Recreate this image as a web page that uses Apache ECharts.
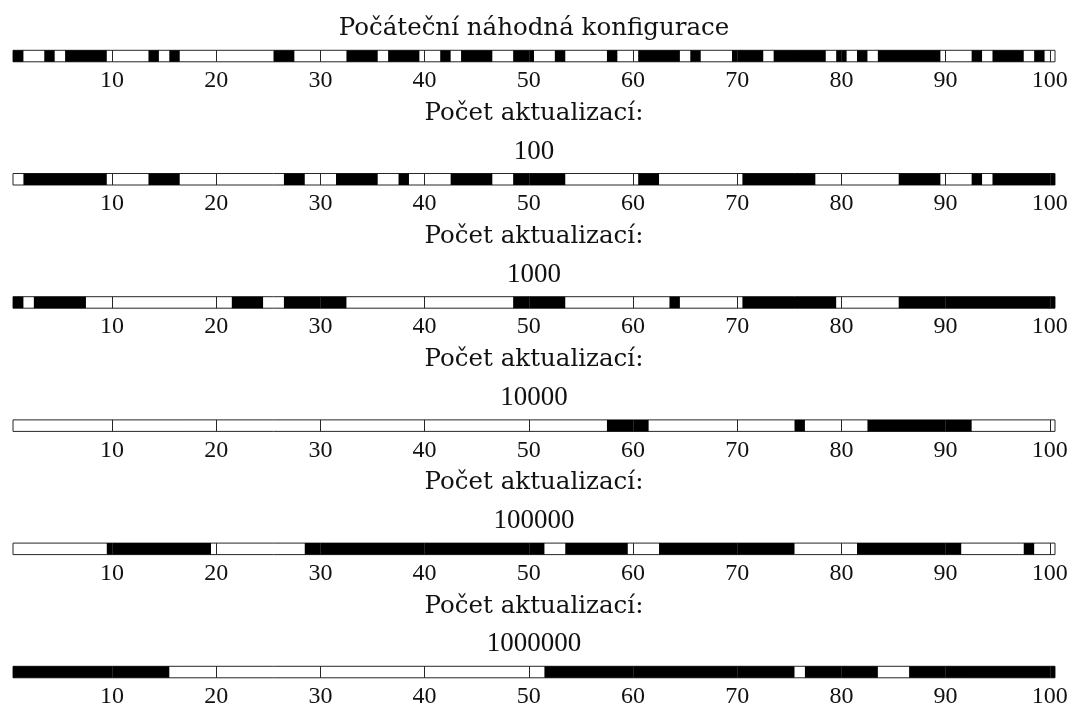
<!DOCTYPE html>
<html>
<head>
<meta charset="utf-8">
<script src="https://cdn.jsdelivr.net/npm/echarts@6/dist/echarts.min.js"></script>
<style>
  html, body { margin: 0; padding: 0; background: #fff; }
  #chart { width: 1073px; height: 709px; }
</style>
</head>
<body>
<div id="chart"></div>
<script>
// Spin states along a 1D chain of 100 sites (1 = black / down, 0 = white / up)
const initialState = [
  1,0,0,1,0,1,1,1,1,0, 0,0,0,1,0,1,0,0,0,0,
  0,0,0,0,0,1,1,0,0,0, 0,0,1,1,1,0,1,1,1,0,
  0,1,0,1,1,1,0,0,1,1, 0,0,1,0,0,0,0,1,0,0,
  1,1,1,1,0,1,0,0,0,1, 1,1,0,1,1,1,1,1,0,1,
  0,1,0,1,1,1,1,1,1,0, 0,0,1,0,1,1,1,0,1,0
];
const after100 = [
  0,1,1,1,1,1,1,1,1,0, 0,0,0,1,1,1,0,0,0,0,
  0,0,0,0,0,0,1,1,0,0, 0,1,1,1,1,0,0,1,0,0,
  0,0,1,1,1,1,0,0,1,1, 1,1,1,0,0,0,0,0,0,0,
  1,1,0,0,0,0,0,0,0,0, 1,1,1,1,1,1,1,0,0,0,
  0,0,0,0,0,1,1,1,1,0, 0,0,1,0,1,1,1,1,1,1
];
const after1000 = [
  1,0,1,1,1,1,1,0,0,0, 0,0,0,0,0,0,0,0,0,0,
  0,1,1,1,0,0,1,1,1,1, 1,1,0,0,0,0,0,0,0,0,
  0,0,0,0,0,0,0,0,1,1, 1,1,1,0,0,0,0,0,0,0,
  0,0,0,1,0,0,0,0,0,0, 1,1,1,1,1,1,1,1,1,0,
  0,0,0,0,0,1,1,1,1,1, 1,1,1,1,1,1,1,1,1,1
];
const after10000 = [
  0,0,0,0,0,0,0,0,0,0, 0,0,0,0,0,0,0,0,0,0,
  0,0,0,0,0,0,0,0,0,0, 0,0,0,0,0,0,0,0,0,0,
  0,0,0,0,0,0,0,0,0,0, 0,0,0,0,0,0,0,1,1,1,
  1,0,0,0,0,0,0,0,0,0, 0,0,0,0,0,1,0,0,0,0,
  0,0,1,1,1,1,1,1,1,1, 1,1,0,0,0,0,0,0,0,0
];
const after100000 = [
  0,0,0,0,0,0,0,0,0,1, 1,1,1,1,1,1,1,1,1,0,
  0,0,0,0,0,0,0,0,1,1, 1,1,1,1,1,1,1,1,1,1,
  1,1,1,1,1,1,1,1,1,1, 1,0,0,1,1,1,1,1,1,0,
  0,0,1,1,1,1,1,1,1,1, 1,1,1,1,1,0,0,0,0,0,
  0,1,1,1,1,1,1,1,1,1, 1,0,0,0,0,0,0,1,0,0
];
const after1000000 = [
  1,1,1,1,1,1,1,1,1,1, 1,1,1,1,1,0,0,0,0,0,
  0,0,0,0,0,0,0,0,0,0, 0,0,0,0,0,0,0,0,0,0,
  0,0,0,0,0,0,0,0,0,0, 0,1,1,1,1,1,1,1,1,1,
  1,1,1,1,1,1,1,1,1,1, 1,1,1,1,1,0,1,1,1,1,
  1,1,1,0,0,0,1,1,1,1, 1,1,1,1,1,1,1,1,1,1
];

const tickValues = [10, 20, 30, 40, 50, 60, 70, 80, 90, 100];
const firstTitle = 'Počáteční náhodná konfigurace';
const updateTitle = 'Počet aktualizací:';
const updateCounts = [100, 1000, 10000, 100000, 1000000];

const panels = [initialState, after100, after1000, after10000, after100000, after1000000];

// Collapse consecutive black sites into [first, last] runs so each block is one rectangle
function blackRuns(states) {
  const runs = [];
  let start = null;
  states.forEach((s, i) => {
    const site = i + 1;
    if (s === 1 && start === null) start = site;
    if (s !== 1 && start !== null) { runs.push([start, site - 1]); start = null; }
  });
  if (start !== null) runs.push([start, states.length]);
  return runs;
}

const NUM_FONT = '"Liberation Serif", serif';
const WORD_FONT = '"DejaVu Serif", serif';
const INK = '#262626';
const TEXT = '#111';
const LEFT = 13, WIDTH = 1042, TOP0 = 50.3, STEP = 123.2, STRIP_H = 11.5;
const CENTER_X = LEFT + WIDTH / 2;

const grids = [], xAxes = [], yAxes = [], series = [], texts = [];

function titleLine(str, y, font, size) {
  return {
    type: 'text', x: CENTER_X, y: y, silent: true,
    style: {
      text: str, fill: TEXT, align: 'center', verticalAlign: 'middle',
      font: size + 'px ' + font
    }
  };
}

panels.forEach((states, k) => {
  const top = TOP0 + k * STEP;
  grids.push({
    left: LEFT, width: WIDTH, top: top, height: STRIP_H,
    show: true, backgroundColor: '#fff', borderColor: INK, borderWidth: 1
  });
  xAxes.push({
    gridIndex: k, type: 'value', min: 0.5, max: 100.5, z: 10,
    axisLine: { show: false },
    splitLine: { show: false },
    axisTick: {
      show: true, inside: true, length: STRIP_H, customValues: tickValues,
      lineStyle: { color: INK, width: 1 }
    },
    axisLabel: {
      show: true, customValues: tickValues, margin: 7,
      fontFamily: NUM_FONT, fontSize: 24, color: TEXT
    }
  });
  yAxes.push({ gridIndex: k, type: 'value', min: 0, max: 1, show: false });
  series.push({
    type: 'custom',
    xAxisIndex: k, yAxisIndex: k,
    silent: true,
    data: blackRuns(states),
    renderItem: function (params, api) {
      const a = api.coord([api.value(0) - 0.5, 1]);
      const b = api.coord([api.value(1) + 0.5, 0]);
      return {
        type: 'rect',
        shape: { x: a[0], y: a[1], width: b[0] - a[0], height: b[1] - a[1] },
        style: { fill: '#000' }
      };
    }
  });
  if (k === 0) {
    texts.push(titleLine(firstTitle, top - 22, WORD_FONT, 24.5));
  } else {
    texts.push(titleLine(updateTitle, top - 60, WORD_FONT, 24.5));
    texts.push(titleLine(String(updateCounts[k - 1]), top - 22, NUM_FONT, 27));
  }
});

const chart = echarts.init(document.getElementById('chart'), null, { renderer: 'canvas' });
chart.setOption({
  animation: false,
  backgroundColor: '#fff',
  graphic: texts,
  grid: grids,
  xAxis: xAxes,
  yAxis: yAxes,
  series: series
});
</script>
</body>
</html>
